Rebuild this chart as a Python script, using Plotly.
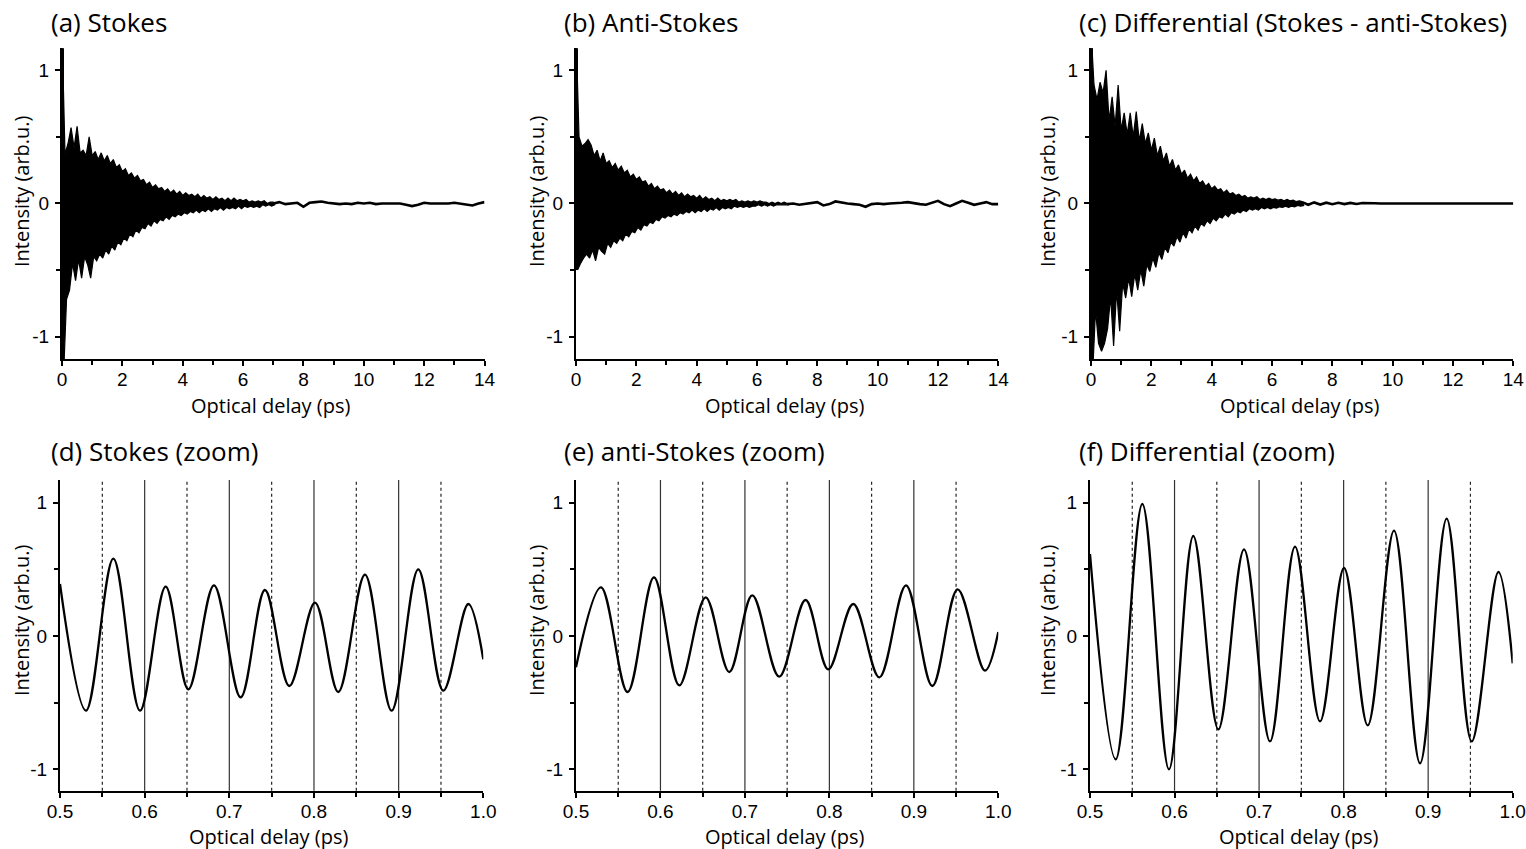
import plotly.graph_objects as go

W, H = 1526, 849

# ------------------------------------------------------------------
# DATA
# ------------------------------------------------------------------
# Top row: oscillation envelope (upper / lower extremes) every 0.1 ps, 0 .. 7 ps
env_step = 0.1
stokes_hi = [1.30, 0.37, 0.45, 0.57, 0.42, 0.58, 0.38, 0.40, 0.36, 0.50,
             0.36, 0.39, 0.33, 0.38, 0.32, 0.36, 0.30, 0.33, 0.27, 0.29,
             0.24, 0.26, 0.21, 0.23, 0.19, 0.21, 0.17, 0.18, 0.14, 0.16,
             0.12, 0.14, 0.11, 0.12, 0.09, 0.11, 0.08, 0.10, 0.07, 0.09,
             0.06, 0.08, 0.06, 0.07, 0.05, 0.07, 0.04, 0.06, 0.04, 0.05,
             0.03, 0.05, 0.03, 0.04, 0.02, 0.04, 0.02, 0.04, 0.02, 0.03,
             0.02, 0.03, 0.01, 0.02, 0.01, 0.02, 0.01, 0.02, 0.00, 0.01,
             0.01]
stokes_lo = [-1.30, -0.72, -0.65, -0.45, -0.58, -0.42, -0.56, -0.40, -0.46, -0.56,
             -0.40, -0.43, -0.38, -0.41, -0.35, -0.38, -0.32, -0.35, -0.29, -0.31,
             -0.26, -0.28, -0.23, -0.25, -0.20, -0.22, -0.18, -0.19, -0.15, -0.17,
             -0.13, -0.15, -0.12, -0.13, -0.10, -0.12, -0.09, -0.10, -0.08, -0.09,
             -0.07, -0.08, -0.06, -0.07, -0.05, -0.07, -0.05, -0.06, -0.04, -0.06,
             -0.04, -0.05, -0.03, -0.05, -0.03, -0.04, -0.03, -0.04, -0.02, -0.04,
             -0.02, -0.03, -0.02, -0.03, -0.02, -0.03, -0.01, -0.02, -0.01, -0.02,
             -0.01]
antistokes_hi = [1.30, 0.50, 0.43, 0.45, 0.48, 0.44, 0.36, 0.40, 0.32, 0.38,
                 0.30, 0.32, 0.27, 0.30, 0.25, 0.28, 0.23, 0.25, 0.20, 0.22,
                 0.18, 0.20, 0.16, 0.17, 0.13, 0.15, 0.11, 0.13, 0.10, 0.11,
                 0.08, 0.10, 0.07, 0.09, 0.06, 0.08, 0.05, 0.07, 0.05, 0.06,
                 0.04, 0.06, 0.03, 0.05, 0.03, 0.04, 0.02, 0.04, 0.02, 0.03,
                 0.02, 0.03, 0.02, 0.03, 0.01, 0.02, 0.01, 0.02, 0.01, 0.02,
                 0.01, 0.02, 0.01, 0.01, 0.00, 0.01, 0.00, 0.01, 0.00, 0.01,
                 0.00]
antistokes_lo = [-0.50, -0.45, -0.41, -0.38, -0.41, -0.35, -0.43, -0.33, -0.36, -0.38,
                 -0.30, -0.33, -0.28, -0.30, -0.26, -0.28, -0.23, -0.25, -0.21, -0.22,
                 -0.18, -0.20, -0.16, -0.17, -0.14, -0.15, -0.12, -0.13, -0.10, -0.11,
                 -0.09, -0.10, -0.08, -0.09, -0.07, -0.08, -0.06, -0.07, -0.05, -0.07,
                 -0.05, -0.06, -0.04, -0.06, -0.04, -0.05, -0.03, -0.05, -0.03, -0.04,
                 -0.03, -0.04, -0.02, -0.03, -0.02, -0.03, -0.02, -0.03, -0.02, -0.02,
                 -0.01, -0.02, -0.01, -0.02, -0.01, -0.02, -0.01, -0.01, -0.01, -0.01,
                 -0.01]
diff_hi = [1.30, 0.89, 0.78, 0.91, 0.83, 1.00, 0.62, 0.80, 0.58, 0.89,
           0.55, 0.68, 0.52, 0.68, 0.50, 0.69, 0.47, 0.60, 0.45, 0.53,
           0.40, 0.49, 0.36, 0.43, 0.32, 0.38, 0.28, 0.33, 0.25, 0.29,
           0.22, 0.25, 0.19, 0.22, 0.17, 0.20, 0.15, 0.17, 0.13, 0.15,
           0.11, 0.13, 0.10, 0.11, 0.08, 0.10, 0.07, 0.08, 0.06, 0.07,
           0.05, 0.06, 0.04, 0.05, 0.04, 0.05, 0.03, 0.04, 0.03, 0.04,
           0.03, 0.035, 0.025, 0.03, 0.02, 0.03, 0.02, 0.025, 0.015, 0.02,
           0.015]
diff_lo = [-1.30, -0.80, -1.05, -1.11, -1.05, -0.94, -0.70, -1.07, -0.65, -0.96,
           -0.60, -0.71, -0.56, -0.70, -0.53, -0.65, -0.50, -0.62, -0.46, -0.51,
           -0.41, -0.48, -0.37, -0.42, -0.33, -0.37, -0.29, -0.32, -0.25, -0.29,
           -0.22, -0.26, -0.19, -0.22, -0.17, -0.20, -0.15, -0.17, -0.13, -0.15,
           -0.11, -0.13, -0.10, -0.11, -0.08, -0.10, -0.07, -0.08, -0.06, -0.07,
           -0.05, -0.06, -0.04, -0.05, -0.04, -0.05, -0.03, -0.04, -0.03, -0.04,
           -0.03, -0.035, -0.025, -0.03, -0.02, -0.03, -0.02, -0.025, -0.015, -0.02,
           -0.015]

# Top row: slow residual signal 7 .. 14 ps, every 0.2 ps
tail_start, tail_step = 7.0, 0.2
stokes_tail = [0.0, 0.01, -0.005, 0.0, 0.005, -0.025, 0.005, 0.01, 0.015, 0.005,
               0.0, -0.005, 0.0, -0.005, 0.005, 0.0, 0.005, -0.005, 0.0, 0.0,
               0.005, 0.0, -0.01, -0.02, -0.01, 0.005, 0.0, 0.0, -0.005, 0.0,
               0.005, 0.0, -0.005, -0.015, 0.0, 0.01]
antistokes_tail = [-0.005, 0.0, -0.01, -0.005, 0.005, 0.01, -0.015, -0.005, 0.015, 0.005,
                   0.0, -0.005, -0.01, -0.025, -0.005, 0.0, -0.005, 0.0, 0.0, 0.005,
                   0.01, 0.0, -0.005, -0.01, 0.005, 0.02, -0.005, -0.02, 0.0, 0.02,
                   0.005, -0.01, 0.0, 0.01, -0.005, -0.005]
diff_tail = [0.01, -0.01, 0.008, -0.008, 0.006, -0.006, 0.005, -0.005, 0.004, -0.004,
             0.003, 0.0, 0.002, 0.0, 0.0, 0.002, 0.0, 0.0, 0.0, -0.002,
             0.0, 0.0, 0.002, 0.0, 0.0, 0.0, 0.003, 0.0, -0.002, 0.0,
             0.0, 0.0, 0.002, 0.0, 0.0, 0.0]

# Bottom row: zoomed traces (extrema positions / values)
stokes_zoom_t = [0.500, 0.5307, 0.563, 0.5945, 0.6248, 0.6516, 0.6819, 0.7134, 0.7421,
                 0.7709, 0.8012, 0.8287, 0.8602, 0.8917, 0.9232, 0.9528, 0.9823, 1.000]
stokes_zoom_v = [0.39, -0.56, 0.58, -0.56, 0.37, -0.40, 0.38, -0.46, 0.345,
                 -0.375, 0.25, -0.42, 0.46, -0.56, 0.50, -0.41, 0.24, -0.175]
antistokes_zoom_t = [0.500, 0.5296, 0.5611, 0.5923, 0.6223, 0.6535, 0.6815, 0.7087, 0.7406,
                     0.7718, 0.7987, 0.8283, 0.8591, 0.8907, 0.9219, 0.9519, 0.9842, 1.000]
antistokes_zoom_v = [-0.235, 0.365, -0.42, 0.44, -0.37, 0.29, -0.27, 0.305, -0.305,
                     0.27, -0.25, 0.24, -0.31, 0.38, -0.375, 0.35, -0.26, 0.03]
diff_zoom_t = [0.500, 0.5304, 0.5619, 0.5934, 0.6222, 0.6518, 0.6822, 0.7129, 0.7425,
               0.7721, 0.8005, 0.8285, 0.8596, 0.8904, 0.9219, 0.9515, 0.9831, 1.000]
diff_zoom_v = [0.615, -0.925, 0.99, -1.00, 0.75, -0.70, 0.65, -0.79, 0.67,
               -0.64, 0.51, -0.67, 0.79, -0.955, 0.88, -0.79, 0.48, -0.205]

# Reference delays marked in the zoom panels
solid_marks = [0.6, 0.7, 0.8, 0.9]
dotted_marks = [0.55, 0.65, 0.75, 0.85, 0.95]

# Titles and tick labels
panel_titles = ["(a) Stokes", "(b) Anti-Stokes", "(c) Differential (Stokes - anti-Stokes)",
                "(d) Stokes (zoom)", "(e) anti-Stokes (zoom)", "(f) Differential (zoom)"]
x_title = "Optical delay (ps)"
y_title = "Intensity (arb.u.)"
top_xticks = [0, 2, 4, 6, 8, 10, 12, 14]
top_xminor = [1, 3, 5, 7, 9, 11, 13]
bot_xticks = [0.5, 0.6, 0.7, 0.8, 0.9, 1.0]
bot_xticklabels = ["0.5", "0.6", "0.7", "0.8", "0.9", "1.0"]
bot_xminor = [0.55, 0.65, 0.75, 0.85, 0.95]
yticks = [-1, 0, 1]
yticklabels = ["-1", "0", "1"]
yminor = [-0.5, 0.5]

# ------------------------------------------------------------------
# LAYOUT GEOMETRY (pixels)
# ------------------------------------------------------------------
top_cols = [(62, 484.5), (576, 998.3), (1091, 1513.3)]
bot_cols = [(60, 483.3), (576, 998.3), (1090, 1512.7)]
top_row = (48.3, 359.3)
bot_row = (480, 790.7)
top_yrange = [-1.17, 1.165]
bot_yrange = [-1.16, 1.17]

TICKFONT = dict(family="Liberation Sans, Arial, sans-serif", size=19, color="black")
LABFONT = dict(family="Open Sans, Noto Sans, sans-serif", size=20, color="black")
TITLEFONT = dict(family="Open Sans, Noto Sans, sans-serif", size=26, color="black")


def px_x(p):
    return p / W


def px_y(p):
    return 1 - p / H


fig = go.Figure()


def add_envelope(hi, lo, tail, ax):
    # filled band between the upper and lower extremes, with spiky edges
    t_hi = [i * env_step for i in range(len(hi))]
    t_lo = [i * env_step + env_step / 2 for i in range(len(lo))]
    xs = t_hi + t_lo[::-1]
    ys = hi + lo[::-1]
    fig.add_trace(go.Scatter(x=xs, y=ys, mode="lines", fill="toself", fillcolor="black",
                             xaxis="x" + ax, yaxis="y" + ax,
                             line=dict(color="black", width=1.2), showlegend=False,
                             hoverinfo="skip"))
    # the coherent spike at zero delay is a narrow full-height bar
    fig.add_trace(go.Scatter(x=[t_hi[0], t_hi[0]], y=[hi[0], lo[0]], mode="lines",
                             xaxis="x" + ax, yaxis="y" + ax,
                             line=dict(color="black", width=4), showlegend=False,
                             hoverinfo="skip"))
    tx = [tail_start + i * tail_step for i in range(len(tail))]
    fig.add_trace(go.Scatter(x=tx, y=tail, mode="lines", xaxis="x" + ax, yaxis="y" + ax,
                             line=dict(color="black", width=2.6), showlegend=False,
                             hoverinfo="skip"))


def add_zoom(t, v, ax):
    fig.add_trace(go.Scatter(x=t, y=v, mode="lines", xaxis="x" + ax, yaxis="y" + ax,
                             line=dict(color="black", width=2.3, shape="spline", smoothing=1.0),
                             showlegend=False, hoverinfo="skip"))


add_envelope(stokes_hi, stokes_lo, stokes_tail, "")
add_envelope(antistokes_hi, antistokes_lo, antistokes_tail, "2")
add_envelope(diff_hi, diff_lo, diff_tail, "3")
add_zoom(stokes_zoom_t, stokes_zoom_v, "4")
add_zoom(antistokes_zoom_t, antistokes_zoom_v, "5")
add_zoom(diff_zoom_t, diff_zoom_v, "6")


def xaxis_cfg(cols, rng, tv, tt, minor, anchor):
    return dict(domain=[px_x(cols[0]), px_x(cols[1])], range=rng, anchor=anchor,
                automargin=False,
                showline=True, linewidth=2, linecolor="black", mirror=False,
                ticks="outside", ticklen=5, tickwidth=1.5, tickcolor="black",
                ticklabelstandoff=-3,
                tickmode="array", tickvals=tv, ticktext=tt, tickfont=TICKFONT,
                minor=dict(tickmode="array", tickvals=minor, ticks="outside", ticklen=4,
                           tickwidth=1.5, tickcolor="black", showgrid=False),
                showgrid=False, zeroline=False, fixedrange=True)


def yaxis_cfg(row, rng, anchor):
    return dict(domain=[px_y(row[1]), px_y(row[0])], range=rng, anchor=anchor,
                automargin=False,
                showline=True, linewidth=2, linecolor="black", mirror=False,
                ticks="outside", ticklen=5, tickwidth=1.5, tickcolor="black",
                tickmode="array", tickvals=yticks, ticktext=yticklabels, tickfont=TICKFONT,
                ticklabelstandoff=2,
                minor=dict(tickmode="array", tickvals=yminor, ticks="outside", ticklen=4,
                           tickwidth=1.5, tickcolor="black", showgrid=False),
                showgrid=False, zeroline=False, fixedrange=True)


layout = dict(width=W, height=H, autosize=False, margin=dict(l=0, r=0, t=0, b=0, pad=0),
              paper_bgcolor="white", plot_bgcolor="white", showlegend=False)
names = ["", "2", "3", "4", "5", "6"]
for k, nm in enumerate(names):
    if k < 3:
        xa = xaxis_cfg(top_cols[k], [0, 14], top_xticks, [str(v) for v in top_xticks],
                       top_xminor, "y" + nm)
        ya = yaxis_cfg(top_row, top_yrange, "x" + nm)
    else:
        xa = xaxis_cfg(bot_cols[k - 3], [0.5, 1.0], bot_xticks, bot_xticklabels,
                       bot_xminor, "y" + nm)
        ya = yaxis_cfg(bot_row, bot_yrange, "x" + nm)
    layout["xaxis" + nm] = xa
    layout["yaxis" + nm] = ya
fig.update_layout(**layout)

# vertical marker lines in zoom panels
shapes = []
for nm in ["4", "5", "6"]:
    for xv in solid_marks:
        shapes.append(dict(type="line", xref="x" + nm, yref="y" + nm + " domain",
                           x0=xv, x1=xv, y0=0, y1=1, layer="below",
                           line=dict(color="#333333", width=1.2)))
    for xv in dotted_marks:
        shapes.append(dict(type="line", xref="x" + nm, yref="y" + nm + " domain",
                           x0=xv, x1=xv, y0=0, y1=1, layer="below",
                           line=dict(color="#222222", width=1.2, dash="dot")))
fig.update_layout(shapes=shapes)

# annotations: panel titles and axis titles
ann = []
title_pos = [(49, 22), (562, 22), (1077, 22), (49, 451), (562, 451), (1077, 451)]
for (xp, yp), txt in zip(title_pos, panel_titles):
    ann.append(dict(text=txt, x=px_x(xp), y=px_y(yp), xref="paper", yref="paper",
                    xanchor="left", yanchor="middle", showarrow=False, font=TITLEFONT))
xtitle_pos = [((c[0] + c[1]) / 2 - 3, 405) for c in top_cols] + \
             [((c[0] + c[1]) / 2 - 3, 836) for c in bot_cols]
for xp, yp in xtitle_pos:
    ann.append(dict(text=x_title, x=px_x(xp), y=px_y(yp), xref="paper", yref="paper",
                    xanchor="center", yanchor="middle", showarrow=False, font=LABFONT))
ytitle_pos = [(21, 191), (536, 191), (1047, 191), (21, 620), (536, 620), (1047, 620)]
for xp, yp in ytitle_pos:
    ann.append(dict(text=y_title, x=px_x(xp), y=px_y(yp), xref="paper", yref="paper",
                    xanchor="center", yanchor="middle", textangle=-90, showarrow=False,
                    font=LABFONT))
fig.update_layout(annotations=ann)

fig.write_html("out.html", config={"displayModeBar": False},
               post_script="document.body.style.margin='0px';document.body.style.overflow='hidden';")
